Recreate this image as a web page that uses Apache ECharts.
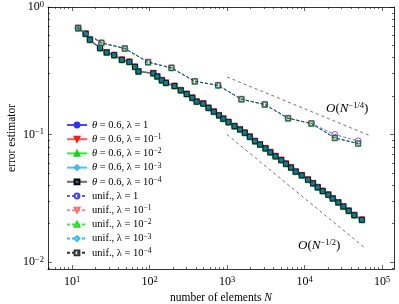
<!DOCTYPE html>
<html><head><meta charset="utf-8">
<script src="https://cdn.jsdelivr.net/npm/echarts@6/dist/echarts.min.js"></script>
<style>html,body{margin:0;padding:0;background:#fff}#c{width:399px;height:304px}</style>
</head><body><div id="c"></div>
<script>
// ---- data ----
const adaptiveN = [12,15,17,23,28,35,44,55,65,72,112,126,144,163,210,253,302,357,406,494,577,676,789,896,1046,1250,1472,1697,1969,2298,2666,3140,3621,4226,5006,5771,6696,7700,9203,11100,12880,14800,17170,20280,23110,27310,31670,37170,43920,55000];
const adaptiveErr = [0.683,0.616,0.553,0.476,0.440,0.419,0.385,0.371,0.339,0.312,0.302,0.285,0.266,0.254,0.240,0.222,0.2077,0.1938,0.181,0.1748,0.1617,0.151,0.1411,0.1329,0.125,0.1162,0.1095,0.1031,0.0959,0.0886,0.0834,0.0778,0.0725,0.0675,0.063,0.0589,0.055,0.0511,0.0478,0.0442,0.0414,0.0385,0.036,0.0337,0.0315,0.0293,0.0272,0.0252,0.0233,0.0214];
const unifN = [12,24,48,96,192,384,768,1536,3072,6144,12288,24576,49152];
const unifErrLam1 = [0.683,0.523,0.473,0.369,0.333,0.261,0.243,0.189,0.172,0.134,0.122,0.100,0.089];
const unifErr = [0.683,0.523,0.473,0.369,0.333,0.261,0.243,0.189,0.172,0.134,0.122,0.094,0.085];
const refQuarterN = [1000, 70000];
const refQuarterVal = [0.283, 0.0978];
const refHalfN = [1000, 60000];
const refHalfVal = [0.1, 0.0129];
const legendNames = ['θ = 0.6, λ = 1','θ = 0.6, λ = 10^−1','θ = 0.6, λ = 10^−2','θ = 0.6, λ = 10^−3','θ = 0.6, λ = 10^−4',
  'unif., λ = 1','unif., λ = 10^−1','unif., λ = 10^−2','unif., λ = 10^−3','unif., λ = 10^−4'];
const xMajor = [10,100,1000,10000,100000];
const yMajor = [0.01,0.1,1];
const xAxisTitle = 'number of elements {i|N}';
const yAxisTitle = 'error estimator';

// ---- layout ----
const FONT = 'Liberation Serif';
const xMin = Math.pow(10, 1 - (72-48)/77.5), xMax = Math.pow(10, 1 + (394-72)/77.5);
const yMax = 1, yMin = Math.pow(10, -(269-7)/127.5);
const xMinor = [], yMinor = [];
for (let e = 0; e <= 5; e++) for (let k = 2; k <= 9; k++) { const v = k*Math.pow(10,e); if (v>xMin && v<xMax) xMinor.push(v); }
for (let e = -3; e <= 0; e++) for (let k = 2; k <= 9; k++) { const v = k*Math.pow(10,e); if (v>yMin && v<yMax) yMinor.push(v); }

function expLabel(v){ const e = Math.round(Math.log10(v)); return '{b|10}{s|' + (e<0?'−':'') + Math.abs(e) + '}'; }
const labRich = { b:{fontFamily:FONT,fontSize:12,lineHeight:14,color:'#000'}, s:{fontFamily:FONT,fontSize:8.5,lineHeight:7,verticalAlign:'top',color:'#000'} };

function xAx(pos, ticks, len, main){
  return {type:'log', logBase:10, min:xMin, max:xMax, position:pos, gridIndex:0,
    axisLine:{show:main, onZero:false, lineStyle:{color:'#000',width:0.8}},
    axisTick:{show:true, inside:true, length:len, customValues:ticks, lineStyle:{color:'#000',width:0.6}},
    axisLabel:{show: main && pos==='bottom', customValues:xMajor, margin:6, formatter:expLabel, rich:labRich},
    splitLine:{show:false}, minorTick:{show:false},
    name: (main && pos==='bottom') ? xAxisTitle : '', nameLocation:'middle', nameGap:23, nameMoveOverlap:false,
    nameTextStyle:{fontFamily:FONT,fontSize:11.5,color:'#000',rich:{i:{fontFamily:FONT,fontSize:11.5,fontStyle:'italic',color:'#000'}}}
  };
}
function yAx(pos, ticks, len, main){
  return {type:'log', logBase:10, min:yMin, max:yMax, position:pos, gridIndex:0,
    axisLine:{show:main, onZero:false, lineStyle:{color:'#000',width:0.8}},
    axisTick:{show:true, inside:true, length:len, customValues:ticks, lineStyle:{color:'#000',width:0.6}},
    axisLabel:{show: main && pos==='left', customValues:yMajor, margin:4, formatter:expLabel, rich:labRich},
    splitLine:{show:false}, minorTick:{show:false},
    name: (main && pos==='left') ? yAxisTitle : '', nameLocation:'middle', nameGap:30, nameRotate:90, nameMoveOverlap:false,
    nameTextStyle:{fontFamily:FONT,fontSize:11.5,color:'#000'}
  };
}

const NONE = 'rgba(255,255,255,0)';
const styles = [
  {sym:'circle', size:6, rot:0, fill:'#3030ff', border:'#3030ff', line:'#4848ff', w:0.9, dash:'solid'},
  {sym:'triangle', size:6, rot:180, fill:'#ff1a1a', border:'#ff1a1a', line:'#ff5a5a', w:0.9, dash:'solid'},
  {sym:'triangle', size:6, rot:0, fill:'#1fcc1f', border:'#1fcc1f', line:'#33ee33', w:0.9, dash:'solid'},
  {sym:'diamond', size:6, rot:0, fill:'#c9a84a', border:'#3fb6ff', line:'#4cc3ff', w:0.9, dash:'solid'},
  {sym:'rect', size:5, rot:0, fill:'#137a87', border:'#000', line:'#6a6a6a', w:1.6, dash:'solid'},
  {sym:'circle', size:6, rot:0, fill:NONE, border:'#4040ff', line:'#5a5aff', w:0.9, dash:[3,2]},
  {sym:'triangle', size:6, rot:180, fill:NONE, border:'#ff6a6a', line:'#ff8a8a', w:0.9, dash:[3,2]},
  {sym:'triangle', size:6, rot:0, fill:NONE, border:'#22dd22', line:'#33ee33', w:0.9, dash:[3,2]},
  {sym:'diamond', size:6, rot:0, fill:NONE, border:'#33bbff', line:'#33bbff', w:0.9, dash:[3,2]},
  {sym:'rect', size:5, rot:0, fill:NONE, border:'#333', line:'#333', w:0.9, dash:[3,2]}
];
const seriesData = [
  [adaptiveN, adaptiveErr],[adaptiveN, adaptiveErr],[adaptiveN, adaptiveErr],[adaptiveN, adaptiveErr],[adaptiveN, adaptiveErr],
  [unifN, unifErrLam1],[unifN, unifErr],[unifN, unifErr],[unifN, unifErr],[unifN, unifErr]
];
const series = styles.map((s,i)=>({
  name: legendNames[i], type:'line', xAxisIndex:0, yAxisIndex:0,
  data: seriesData[i][0].map((n,j)=>[n, seriesData[i][1][j]]),
  symbol:s.sym, symbolSize:s.size, symbolRotate:s.rot, showSymbol:true, showAllSymbol:true,
  lineStyle:{color:s.line, width:s.w, type:s.dash},
  itemStyle:{color:s.fill, borderColor:s.border, borderWidth:0.8},
  emphasis:{disabled:true}, silent:true, z:2+i
}));
series.push({name:'refQuarter', type:'line', data: refQuarterN.map((n,j)=>[n, refQuarterVal[j]]), symbol:'none', silent:true,
  lineStyle:{color:'#333', width:0.7, type:[3,3]}, z:1});
series.push({name:'refHalf', type:'line', data: refHalfN.map((n,j)=>[n, refHalfVal[j]]), symbol:'none', silent:true,
  lineStyle:{color:'#333', width:0.7, type:[3,3]}, z:1});

const LF = 10.5;
const legRich = {
  i:{fontFamily:FONT,fontSize:LF,fontStyle:'italic',lineHeight:12,color:'#000'},
  t:{fontFamily:FONT,fontSize:LF,lineHeight:12,color:'#000'},
  s:{fontFamily:FONT,fontSize:7.5,lineHeight:6,verticalAlign:'top',color:'#000'}
};
function legFmt(name){
  return name.replace('θ','{i|θ}').replace(/10\^(−\d)/, '{t|10}{s|$1}');
}
const oRich = {
  o:{fontFamily:FONT,fontSize:13,fontStyle:'italic',lineHeight:16,fill:'#000'},
  n:{fontFamily:FONT,fontSize:13,fontStyle:'italic',lineHeight:16,fill:'#000'},
  p:{fontFamily:FONT,fontSize:13,lineHeight:16,fill:'#000'},
  s:{fontFamily:FONT,fontSize:8.5,lineHeight:8,verticalAlign:'top',fill:'#000'}
};

const chart = echarts.init(document.getElementById('c'), null, {renderer:'canvas'});
chart.setOption({
  animation:false, backgroundColor:'#fff',
  grid:{left:48, right:5, top:7, bottom:35, containLabel:false, outerBoundsMode:'none'},
  xAxis:[xAx('bottom', xMajor, 4, true), xAx('bottom', xMinor, 2, false), xAx('top', xMajor, 4, true), xAx('top', xMinor, 2, false)],
  yAxis:[yAx('left', yMajor, 4, true), yAx('left', yMinor, 2, false), yAx('right', yMajor, 4, true), yAx('right', yMinor, 2, false)],
  legend:{data:legendNames, orient:'vertical', left:61, top:114, itemWidth:20, itemHeight:6, itemGap:2.2,
    textStyle:{fontFamily:FONT, fontSize:LF, lineHeight:12, color:'#000', rich:legRich},
    formatter:legFmt, selectedMode:false},
  graphic:[
    {type:'text', x:326, y:109, silent:true, style:{text:'{o|O}{p|(}{n|N}{s|−1/4}{p|)}', rich:oRich, verticalAlign:'middle', fill:'#000'}},
    {type:'text', x:298, y:246, silent:true, style:{text:'{o|O}{p|(}{n|N}{s|−1/2}{p|)}', rich:oRich, verticalAlign:'middle', fill:'#000'}}
  ],
  series: series
});
</script></body></html>
